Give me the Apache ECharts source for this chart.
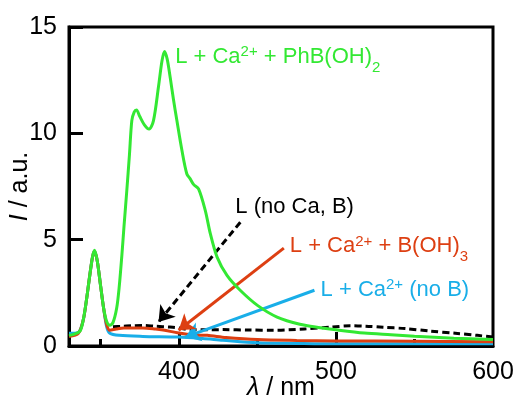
<!DOCTYPE html>
<html>
<head>
<meta charset="utf-8">
<script src="https://cdn.jsdelivr.net/npm/echarts@6/dist/echarts.min.js"></script>
<style>html,body{margin:0;padding:0;background:#fff}#c{width:515px;height:398px}</style>
</head>
<body>
<div id="c"></div>
<script>
// ---- data ----
const greenX = [330,333,337,339,341,343,345,346.3,348,350,352,354,356,358,360.4,362,363.6,365,366.8,368.5,370,371.5,373,375,378,381,383.8,387,389.2,390.8,392.5,394.5,396.5,398.7,401.9,405,407.2,409.3,412.5,416.8,420,424.3,430.6,439,450,462.5,477,490,500,518,535,550,575,600];
const greenY = [0.5,0.55,0.7,1.2,2.1,3.2,4.2,4.5,4.0,2.9,1.8,1.15,0.97,1.1,1.8,2.8,4.2,5.6,7.3,9.0,10.6,11.0,11.1,10.8,10.4,10.2,10.6,12.2,13.4,13.85,13.5,12.6,11.6,10.6,9.2,8.1,7.86,7.6,7.39,6.37,5.28,4.18,3.32,2.62,1.91,1.36,1.02,0.86,0.76,0.61,0.53,0.46,0.37,0.30];

const blackX = [358,363,370,377,385,394,400,407,428,445,460,480,497,509,519,530,544,560,576,590,600];
const blackY = [0.9,0.92,0.95,0.97,0.93,0.89,0.85,0.76,0.77,0.75,0.74,0.8,0.89,0.95,0.93,0.88,0.82,0.7,0.6,0.5,0.42];

const redX = [330,336,339,341,343,345,346.3,348,350,352,354,356,360,365,377,385,390,400,410,418,430,450,475,500,550,600];
const redY = [0.45,0.6,1.2,2.1,3.2,4.2,4.45,4.0,2.9,1.8,1.0,0.74,0.8,0.85,0.85,0.8,0.75,0.61,0.52,0.5,0.4,0.3,0.26,0.24,0.22,0.2];

const blueX = [330,336,339,341,343,345,346.3,348,350,352,354,356,362,377,400,415,428,450,475,500,550,600];
const blueY = [0.6,0.65,1.2,2.1,3.2,4.2,4.45,4.0,2.9,1.8,0.9,0.6,0.5,0.45,0.42,0.35,0.27,0.15,0.12,0.1,0.1,0.1];

const xMin = 330, xMax = 600;
const yTicks = [0, 5, 10, 15];
const xMajorTicks = [400, 500];
const xMinorTicks = [350, 450, 550];
const xLabels = [400, 500, 600];

// annotation arrows [start, tip] in data units
const arrowBlack = [[439.1, 5.82], [387.0, 1.13]];
const arrowRed = [[466.8, 4.6], [399.8, 0.74]];
const arrowBlue = [[486.3, 2.62], [404.0, 0.42]];

// annotation label anchors (left edge, vertical middle) in data units
const labelGreenPos = [397.6, 13.6];
const labelBlackPos = [435.9, 6.56];
const labelRedPos = [470.6, 4.7];
const labelBluePos = [490.2, 2.64];

const labelGreen = 'L + Ca{sup|2+} + PhB(OH){sub|2}';
const labelBlack = 'L (no Ca, B)';
const labelRed = 'L + Ca{sup|2+} + B(OH){sub|3}';
const labelBlue = 'L + Ca{sup|2+} (no B)';

// ---- chart ----
const GREEN = '#33e833', RED = '#dd3f12', BLUE = '#19aee8', BLACK = '#000';
const FONT = '"Liberation Sans", Arial, Helvetica, sans-serif';
function zip(xs, ys) { return xs.map((x, i) => [x, ys[i]]); }
function richFor(color) {
  return {
    sup: { fontSize: 15, color: color, fontFamily: FONT, padding: [0, 0, 9, 0] },
    sub: { fontSize: 15, color: color, fontFamily: FONT, padding: [22, 0, 0, 0] }
  };
}
function labelPoint(pos, text, color) {
  return {
    coord: pos, symbol: 'circle', symbolSize: 0,
    label: { show: true, position: 'right', distance: 0, formatter: text, color: color,
      fontSize: 22, fontFamily: FONT, rich: richFor(color) }
  };
}
function arrowLine(a, color, dashed) {
  return {
    silent: true, animation: false, symbol: ['none', 'arrow'], symbolSize: 15,
    label: { show: false },
    lineStyle: { color: color, width: 3, type: dashed ? [7, 4] : 'solid' },
    data: [[{ coord: a[0] }, { coord: a[1] }]]
  };
}

const chart = echarts.init(document.getElementById('c'), null, { renderer: 'canvas' });
const grid = { left: 69, top: 27, right: 22, bottom: 52, outerBoundsMode: 'none', containLabel: false,
  show: true, borderColor: '#000', borderWidth: 3, backgroundColor: 'transparent' };
const nameStyle = { fontSize: 25, color: '#000', fontFamily: FONT, rich: { i: { fontStyle: 'italic', fontSize: 25, fontFamily: FONT } } };
chart.setOption({
  animation: false,
  grid: grid,
  xAxis: [{
    type: 'value', min: xMin, max: xMax,
    name: '{i|λ} / nm', nameLocation: 'middle', nameGap: 30, nameMoveOverlap: false,
    nameTextStyle: nameStyle,
    axisLine: { show: true, lineStyle: { color: '#000', width: 3 } },
    axisTick: { show: true, inside: true, length: 14, lineStyle: { color: '#000', width: 3 }, customValues: xMajorTicks },
    axisLabel: { show: true, fontSize: 25, color: '#000', fontFamily: FONT, margin: 14, customValues: xLabels },
    splitLine: { show: false }
  }, {
    type: 'value', min: xMin, max: xMax, position: 'bottom', gridIndex: 0,
    axisLine: { show: false },
    axisTick: { show: true, inside: true, length: 7, lineStyle: { color: '#000', width: 3 }, customValues: xMinorTicks },
    axisLabel: { show: false },
    splitLine: { show: false }
  }],
  yAxis: {
    type: 'value', min: 0, max: 15, interval: 5,
    name: '{i|I} / a.u.', nameLocation: 'middle', nameGap: 36, nameMoveOverlap: false,
    nameTextStyle: nameStyle,
    axisLine: { show: true, lineStyle: { color: '#000', width: 3 } },
    axisTick: { show: true, inside: true, length: 14, lineStyle: { color: '#000', width: 3 } },
    axisLabel: { fontSize: 25, color: '#000', fontFamily: FONT, margin: 12, customValues: yTicks },
    splitLine: { show: false }
  },
  series: [
    { name: 'L (no Ca, B)', type: 'line', data: zip(blackX, blackY), showSymbol: false, smooth: 0.3,
      lineStyle: { color: BLACK, width: 3, type: [7, 4] }, z: 2,
      markLine: arrowLine(arrowBlack, BLACK, true),
      markPoint: { silent: true, data: [labelPoint(labelBlackPos, labelBlack, BLACK)] } },
    { name: 'L + Ca2+ (no B)', type: 'line', data: zip(blueX, blueY), showSymbol: false, smooth: 0.3,
      lineStyle: { color: BLUE, width: 3 }, z: 3,
      markLine: arrowLine(arrowBlue, BLUE, false),
      markPoint: { silent: true, data: [labelPoint(labelBluePos, labelBlue, BLUE)] } },
    { name: 'L + Ca2+ + B(OH)3', type: 'line', data: zip(redX, redY), showSymbol: false, smooth: 0.3,
      lineStyle: { color: RED, width: 3 }, z: 4,
      markLine: arrowLine(arrowRed, RED, false),
      markPoint: { silent: true, data: [labelPoint(labelRedPos, labelRed, RED)] } },
    { name: 'L + Ca2+ + PhB(OH)2', type: 'line', data: zip(greenX, greenY), showSymbol: false, smooth: 0.3,
      lineStyle: { color: GREEN, width: 3 }, z: 5,
      markPoint: { silent: true, data: [labelPoint(labelGreenPos, labelGreen, GREEN)] } }
  ]
});
</script>
</body>
</html>
